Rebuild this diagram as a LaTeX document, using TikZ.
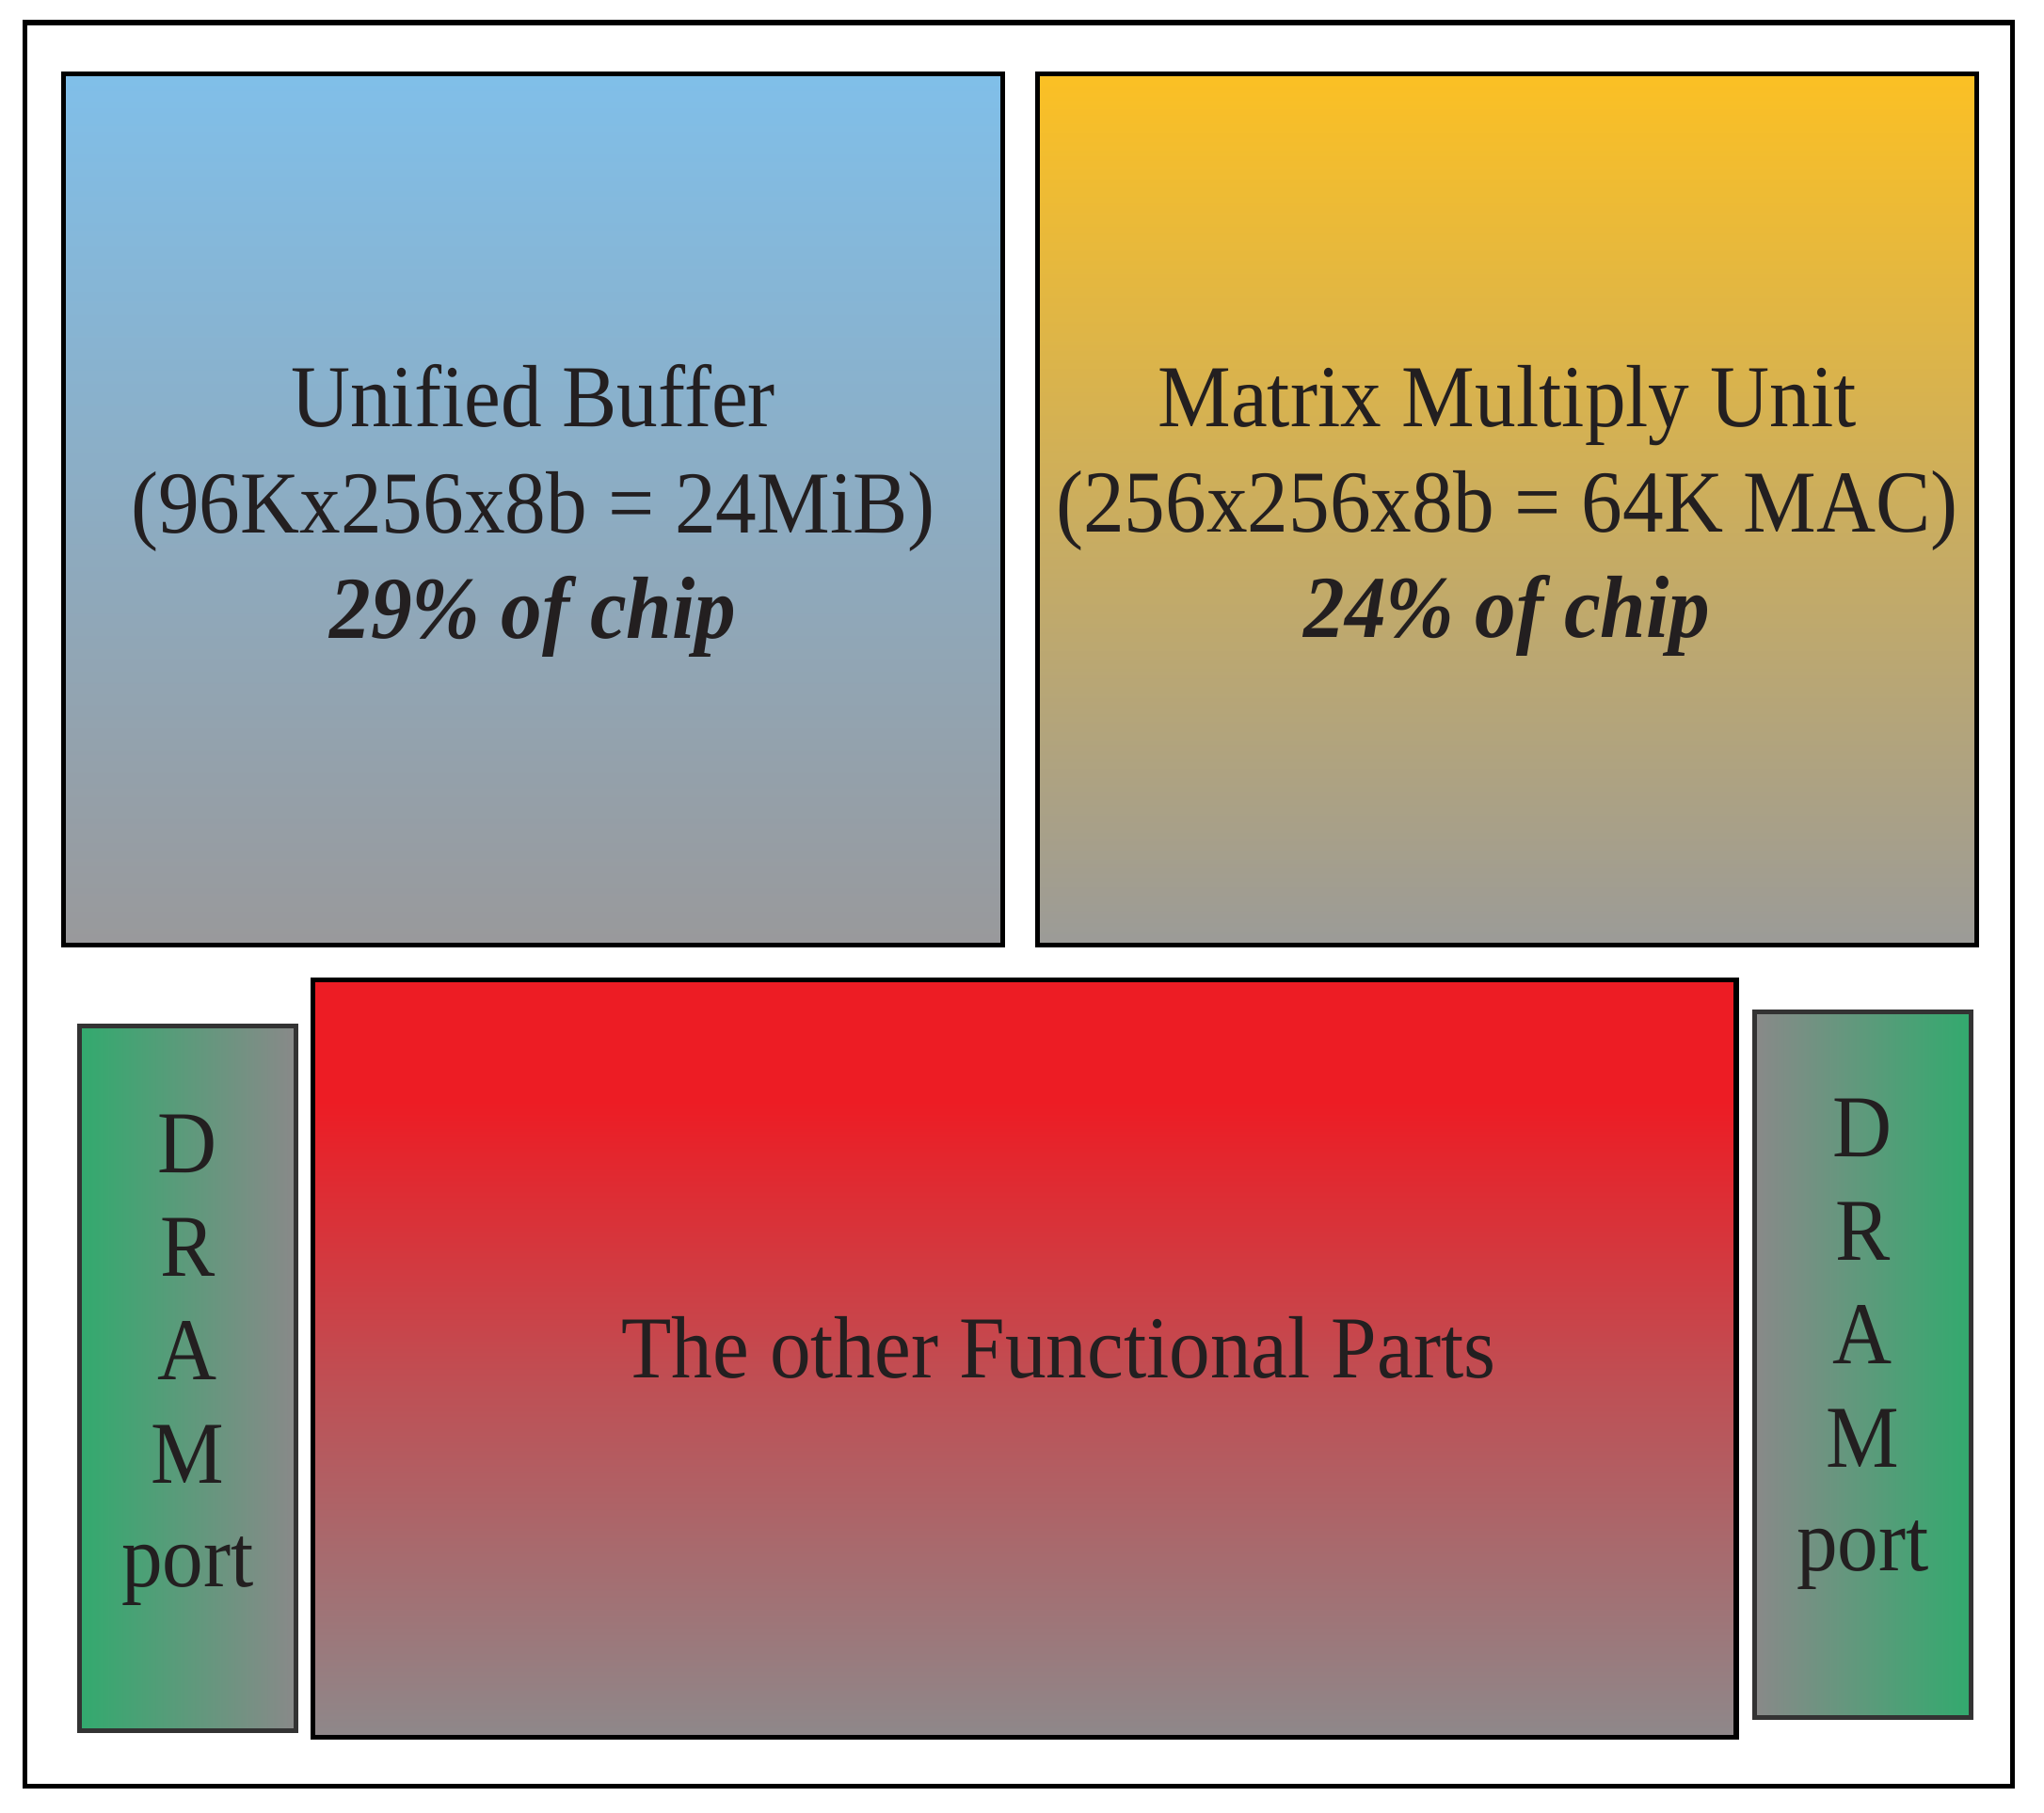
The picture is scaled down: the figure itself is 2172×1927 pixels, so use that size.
\documentclass[tikz,border=0pt]{standalone}
\usepackage{fontspec}
\setmainfont{Liberation Serif}[FakeStretch=0.93]
\definecolor{ubtop}{RGB}{128,191,233}
\definecolor{ubbot}{RGB}{153,153,155}
\definecolor{mmtop}{RGB}{251,192,36}
\definecolor{mmbot}{RGB}{155,155,152}
\definecolor{rdtop}{RGB}{237,28,36}
\definecolor{rdmid}{RGB}{190,80,85}
\definecolor{rdbot}{RGB}{142,136,138}
\definecolor{drgreen}{RGB}{50,170,110}
\definecolor{drgray}{RGB}{137,137,137}
\definecolor{txt}{RGB}{35,31,32}
\definecolor{drline}{RGB}{51,51,51}
\pgfdeclareverticalshading{redfade}{100bp}{color(0bp)=(rdbot); color(25bp)=(rdbot); color(48bp)=(rdmid); color(67bp)=(rdtop); color(100bp)=(rdtop)}
\begin{document}
\begin{tikzpicture}[x=0.01cm,y=-0.01cm,
  block/.style={rectangle, draw=black, line width=1.45pt, inner sep=0pt, outer sep=0pt},
  dramblock/.style={rectangle, draw=drline, line width=1.45pt, inner sep=0pt, outer sep=0pt},
  bigtext/.style={text=txt, align=center, inner sep=0pt, font=\fontsize{26.7pt}{31.9pt}\selectfont},
  dramtext/.style={text=txt, align=center, inner sep=0pt, font=\fontsize{26.7pt}{31.3pt}\selectfont}]
\useasboundingbox (0,0) rectangle (2172,1927);
\node[block, line width=1.45pt, minimum width=21.10cm, minimum height=18.73cm] (chip) at (1082.5,961) {};
\node[block, top color=ubtop, bottom color=ubbot, minimum width=9.98cm, minimum height=9.26cm] (ub) at (566.5,541.5) {};
\node[block, top color=mmtop, bottom color=mmbot, minimum width=9.98cm, minimum height=9.26cm] (mmu) at (1601.5,541.5) {};
\node[block, shading=redfade, minimum width=15.12cm, minimum height=8.045cm] (other) at (1088.5,1443.75) {};
\node[dramblock, left color=drgreen, right color=drgray, minimum width=2.30cm, minimum height=7.485cm] (dramL) at (199.5,1464.75) {};
\node[dramblock, left color=drgray, right color=drgreen, minimum width=2.30cm, minimum height=7.50cm] (dramR) at (1979.5,1450.5) {};
\node[bigtext] (ubtext) at (566.5,543) {Unified Buffer\\(96Kx256x8b = 24MiB)\\\textbf{\textit{29\% of chip}}};
\node[bigtext] (mmutext) at (1601.5,543) {Matrix Multiply Unit\\(256x256x8b = 64K MAC)\\\textbf{\textit{24\% of chip}}};
\node[bigtext, anchor=base] (othertext) at (1125,1464) {The other Functional Parts};
\node[dramtext] (dramLtext) at (199.5,1445.5) {D\\R\\A\\M\\port};
\node[dramtext] (dramRtext) at (1979.5,1428.5) {D\\R\\A\\M\\port};
\end{tikzpicture}
\end{document}
